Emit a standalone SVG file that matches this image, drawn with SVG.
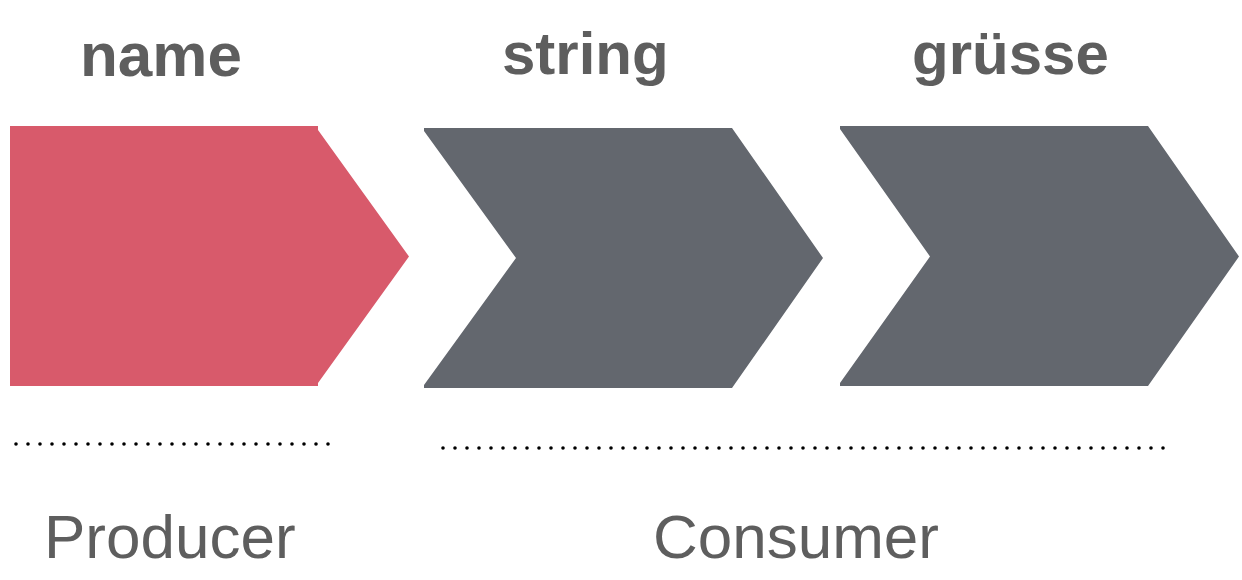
<svg xmlns="http://www.w3.org/2000/svg" width="1242" height="580" viewBox="0 0 1242 580">
<style>
.title{font-family:"Liberation Sans",Arial,sans-serif;font-weight:bold;font-size:60px;fill:#5e5e5e}
.label{font-family:"Liberation Sans",Arial,sans-serif;font-size:62px;fill:#5e5e5e}
.dots{stroke:#000;stroke-width:3.6;stroke-linecap:round;stroke-dasharray:0 12;fill:none}
</style>
<rect width="1242" height="580" fill="#fff"/>
<g id="name">
<polygon points="10,126 318,126 318,130 409,256.5 318,383 318,386 10,386" fill="#d85a6b"/>
<text class="title" x="80" y="76" style="font-size:62px">name</text>
</g>
<g id="string">
<polygon points="424,128 732,128 823,258 732,388 424,388 424,385 516,258 424,131" fill="#63676e"/>
<text class="title" x="502" y="74">string</text>
</g>
<g id="grusse">
<polygon points="840,126 1148,126 1239,256.5 1148,386 840,386 840,383 930,256.5 840,129" fill="#63676e"/>
<text class="title" x="912" y="74">grüsse</text>
</g>
<g id="connectors">
<line class="dots" x1="16" y1="444" x2="328.5" y2="444"/>
<line class="dots" x1="443" y1="448" x2="1163.5" y2="448"/>
</g>
<g id="producer">
<text class="label" x="44" y="558">Producer</text>
</g>
<g id="consumer">
<text class="label" x="653" y="558">Consumer</text>
</g>
</svg>
